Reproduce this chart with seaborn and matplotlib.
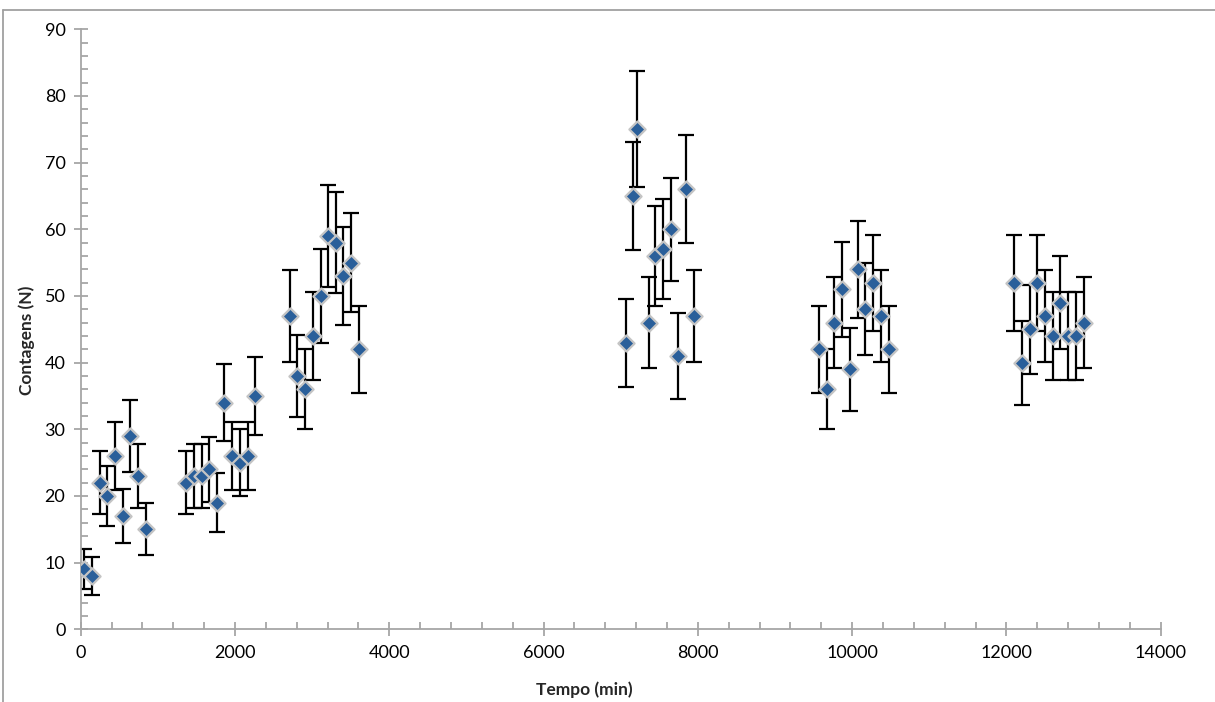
import numpy as np
import pandas as pd
import matplotlib
matplotlib.use("Agg")
import matplotlib.pyplot as plt
import seaborn as sns
from matplotlib.ticker import MultipleLocator
from matplotlib.lines import Line2D

# Tempo (min) of each count
tempo = [43, 146, 250, 345, 449, 548, 639, 742, 846,
         1366, 1464, 1568, 1662, 1766, 1853, 1965, 2064, 2164, 2260,
         2712, 2807, 2911, 3014, 3110, 3205, 3308, 3403, 3507, 3602,
         7066, 7161, 7209, 7368, 7446, 7550, 7650, 7745, 7849, 7952,
         9567, 9671, 9765, 9869, 9973, 10077, 10172, 10267, 10375, 10478,
         12098, 12198, 12302, 12401, 12500, 12600, 12700, 12798, 12897, 13005]

contagens = [9, 8, 22, 20, 26, 17, 29, 23, 15,
             22, 23, 23, 24, 19, 34, 26, 25, 26, 35,
             47, 38, 36, 44, 50, 59, 58, 53, 55, 42,
             43, 65, 75, 46, 56, 57, 60, 41, 66, 47,
             42, 36, 46, 51, 39, 54, 48, 52, 47, 42,
             52, 40, 45, 52, 47, 44, 49, 44, 44, 46]

# half-length of the error bars, as read
erro = [3.0, 2.8, 4.7, 4.5, 5.1, 4.1, 5.4, 4.8, 3.9,
        4.7, 4.8, 4.8, 4.9, 4.4, 5.8, 5.1, 5.0, 5.1, 5.9,
        6.9, 6.2, 6.0, 6.6, 7.1, 7.7, 7.6, 7.3, 7.4, 6.5,
        6.6, 8.1, 8.7, 6.8, 7.5, 7.5, 7.7, 6.4, 8.1, 6.9,
        6.5, 6.0, 6.8, 7.1, 6.2, 7.3, 6.9, 7.2, 6.9, 6.5,
        7.2, 6.3, 6.7, 7.2, 6.9, 6.6, 7.0, 6.6, 6.6, 6.8]

df = pd.DataFrame({"Tempo (min)": tempo, "Contagens (N)": contagens, "erro": erro})

sns.set_theme(style="white")
plt.rcParams['font.family'] = ['Lato', 'DejaVu Sans']

fig = plt.figure(figsize=(12.15, 7.02), dpi=100)
ax = fig.add_axes([0.0664, 0.1036, 0.8889, 0.8547])

ax.errorbar(df["Tempo (min)"], df["Contagens (N)"], yerr=df["erro"], fmt='none',
            ecolor='black', elinewidth=1.6, capsize=5.8, capthick=1.6, zorder=2)
sns.scatterplot(data=df, x="Tempo (min)", y="Contagens (N)", marker='D', s=68,
                color='#2a5f9a', edgecolor='#c4c4c4', linewidth=1.6, zorder=3, ax=ax)

ax.set_xlim(0, 14000)
ax.set_ylim(0, 90)
ax.xaxis.set_major_locator(MultipleLocator(2000))
ax.xaxis.set_minor_locator(MultipleLocator(400))
ax.yaxis.set_major_locator(MultipleLocator(10))
ax.yaxis.set_minor_locator(MultipleLocator(2))

grey = '#a6a6a6'
for s in ['top', 'right']:
    ax.spines[s].set_visible(False)
for s in ['left', 'bottom']:
    ax.spines[s].set_color(grey)
    ax.spines[s].set_linewidth(1.3)

ax.tick_params(which='major', direction='inout', length=10, width=1.3, color=grey,
               labelsize=13, labelcolor='black', pad=6)
ax.tick_params(which='minor', direction='in', length=5, width=1.3, color=grey)
ax.tick_params(axis='x', which='both', bottom=True)
ax.tick_params(axis='y', which='both', left=True)

ax.set_xlabel("Tempo (min)", fontsize=12.5, fontweight='bold')
ax.set_ylabel("Contagens (N)", fontsize=12.5, fontweight='bold')
ax.xaxis.set_label_coords(0.466, -0.087)
ax.yaxis.set_label_coords(-0.0423, 0.482)

# thin frame lines on the top and left of the picture
fig.add_artist(Line2D([0.0025, 1.0], [0.9858, 0.9858], color='#a0a0a0', lw=1.3))
fig.add_artist(Line2D([0.0025, 0.0025], [0.0, 0.9858], color='#a0a0a0', lw=1.3))

fig.savefig("out.png", dpi=100)
